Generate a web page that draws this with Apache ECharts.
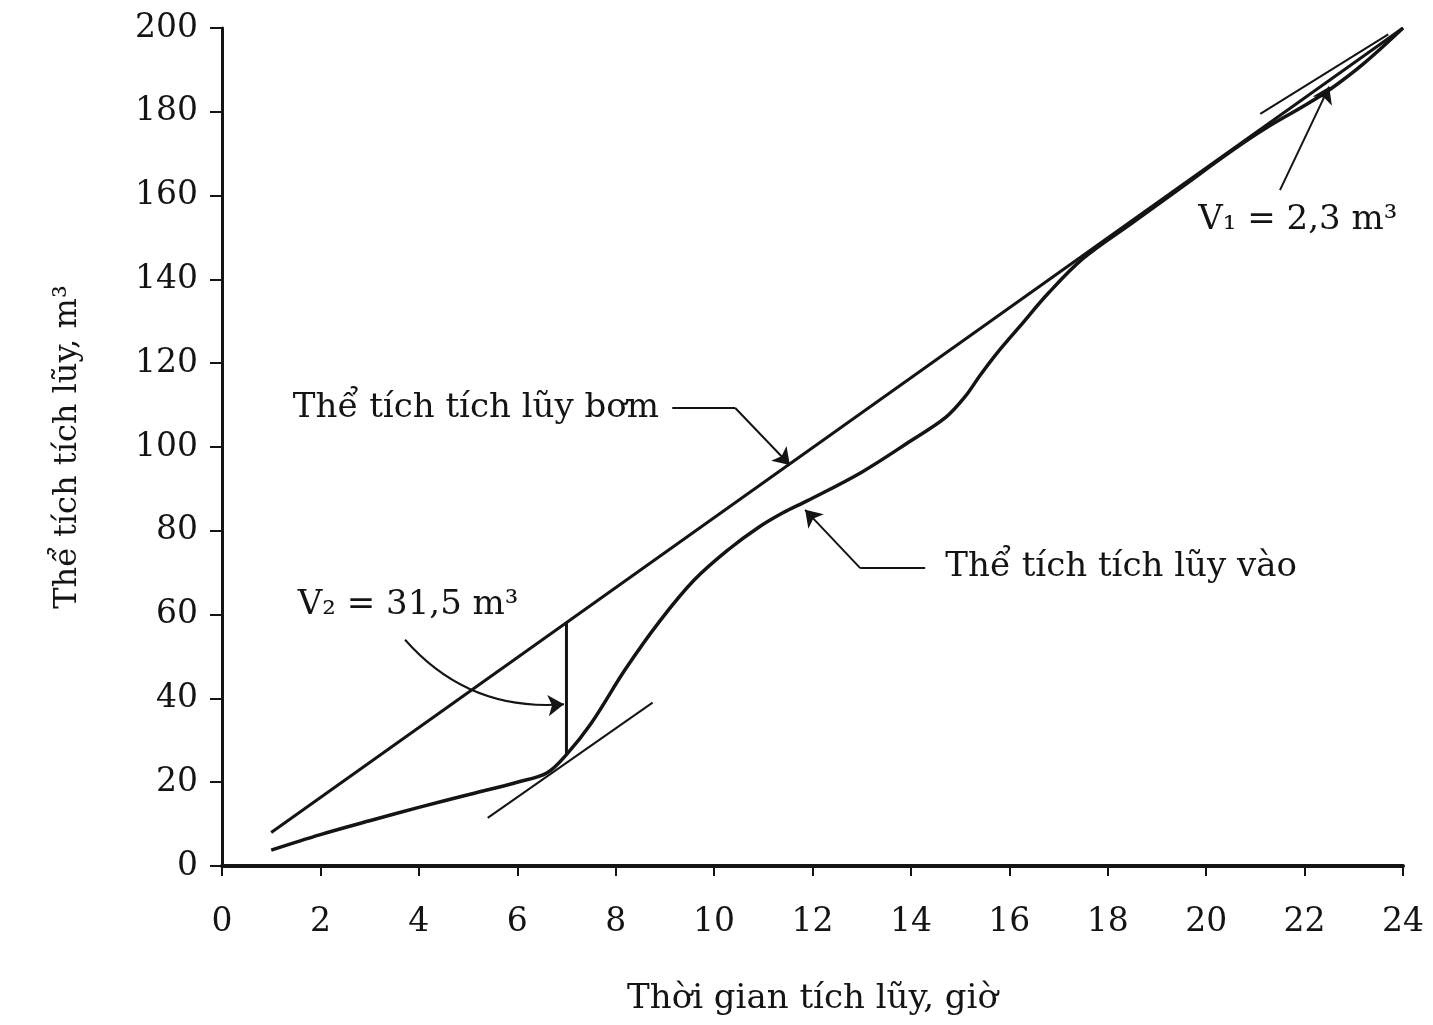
<!DOCTYPE html>
<html>
<head>
<meta charset="utf-8">
<script src="https://cdn.jsdelivr.net/npm/echarts@6/dist/echarts.min.js"></script>
<style>
  html, body { margin: 0; padding: 0; background: #ffffff; }
  #chart { width: 1433px; height: 1025px; }
</style>
</head>
<body>
<div id="chart"></div>
<script>
// Cumulative pumped volume (straight line) and cumulative inflow volume, m³ vs hours
const hoursPump = [1, 24];
const pumpVolume = [8, 200];

const hoursInflow = [1, 2, 3, 4, 5, 6, 6.6, 7, 7.5, 8.2, 8.9, 9.6, 10.3, 10.9, 11.4, 11.9, 13, 14, 14.7, 15.1, 15.4, 15.75, 16.2, 16.8, 17.5, 18.5, 19.5, 20.5, 21.2, 22, 22.5, 23.2, 24];
const inflowVolume = [3.8, 7.5, 10.8, 14, 17, 20, 22.2, 26.6, 34, 47, 58.5, 68.3, 75.6, 80.8, 84.3, 87.2, 94, 101.5, 107, 112, 117, 122.4, 128.6, 136.8, 145, 153.5, 162, 170.5, 176, 181.5, 185.2, 191.5, 200];

// Axis ranges
const xRange = { min: 0, max: 24, step: 2 };
const yRange = { min: 0, max: 200, step: 20 };

// Construction lines: tangents to the inflow curve and the V2 gap at hour 7
const tangentLow = [[5.4, 11.5], [8.75, 39]];
const tangentHigh = [[21.1, 179.5], [23.7, 198.5]];
const gapV2 = [[7, 26.6], [7, 58.1]];

// Leader arrows for the annotations (last segment carries the head)
const arrowPump = [[9.15, 109.3], [10.43, 109.3], [11.54, 95.7]];
const arrowInflow = [[14.29, 71.1], [12.97, 71.1], [11.85, 85]];
const arrowV1 = [[21.5, 161.3], [22.5, 186]];
const arrowV2 = [[3.72, 54], [6.95, 38.6]];

// Annotation texts and their anchor points (left edge, vertical middle)
const notes = [
  { text: 'Thể tích tích lũy bơm', at: [1.44, 109.3] },
  { text: 'Thể tích tích lũy vào', at: [14.7, 71.4] },
  { text: 'V₂ = 31,5 m³', at: [1.54, 62.3] },
  { text: 'V₁ = 2,3 m³', at: [19.84, 154.2] }
];

const xTitle = 'Thời gian tích lũy, giờ';
const yTitle = 'Thể tích tích lũy, m³';

const INK = '#141414';
const FONT = "'DejaVu Serif', 'Liberation Serif', serif";

const zip = (xs, ys) => xs.map((x, i) => [x, ys[i]]);
const leaders = [arrowPump, arrowInflow, arrowV1];
// Bent leaders: everything up to the last vertex is drawn plain, the last segment gets the head
const shafts = leaders.filter(p => p.length > 2).map(p => ({ coords: p.slice(0, -1) }));
const heads = leaders.map(p => ({ coords: p.slice(-2) }));

const chart = echarts.init(document.getElementById('chart'), null, { renderer: 'canvas' });

chart.setOption({
  backgroundColor: '#ffffff',
  animation: false,
  grid: { left: 222, right: 30, top: 28, bottom: 159 },
  xAxis: [
    {
      type: 'value', min: xRange.min, max: xRange.max, interval: xRange.step,
      axisLine: { show: true, lineStyle: { color: INK, width: 2 } },
      axisTick: { show: true, length: 10, lineStyle: { color: INK, width: 2 } },
      axisLabel: { margin: 40, fontSize: 33, fontFamily: FONT, color: INK },
      splitLine: { show: false },
      name: xTitle, nameLocation: 'middle', nameGap: 116,
      nameTextStyle: { fontSize: 34, fontFamily: FONT, color: INK }
    },
    {
      type: 'value', position: 'top', min: xRange.min, max: xRange.max,
      axisLine: { show: true, lineStyle: { color: INK, width: 4 } },
      axisTick: { show: false }, axisLabel: { show: false }, splitLine: { show: false }
    }
  ],
  yAxis: [
    {
      type: 'value', min: yRange.min, max: yRange.max, interval: yRange.step,
      axisLine: { show: true, lineStyle: { color: INK, width: 3 } },
      axisTick: { show: true, length: 12, lineStyle: { color: INK, width: 2 } },
      axisLabel: { margin: 24, fontSize: 33, fontFamily: FONT, color: INK },
      splitLine: { show: false },
      name: yTitle, nameLocation: 'middle', nameGap: 138,
      nameTextStyle: { fontSize: 32, fontFamily: FONT, color: INK }
    },
    {
      type: 'value', position: 'right', min: yRange.min, max: yRange.max,
      axisLine: { show: true, lineStyle: { color: INK, width: 2 } },
      axisTick: { show: false }, axisLabel: { show: false }, splitLine: { show: false }
    }
  ],
  series: [
    {
      name: 'Thể tích tích lũy bơm', type: 'line',
      data: zip(hoursPump, pumpVolume),
      symbol: 'none', lineStyle: { color: INK, width: 3 }, z: 3
    },
    {
      name: 'Thể tích tích lũy vào', type: 'line',
      data: zip(hoursInflow, inflowVolume),
      smooth: 0.35, symbol: 'none',
      lineStyle: { color: INK, width: 3.5 }, z: 3
    },
    {
      type: 'lines', coordinateSystem: 'cartesian2d', polyline: true,
      symbol: ['none', 'none'],
      lineStyle: { color: INK, width: 2, opacity: 1 },
      data: [
        { coords: tangentLow },
        { coords: tangentHigh },
        { coords: gapV2, lineStyle: { width: 3 } }
      ].concat(shafts), z: 2
    },
    {
      type: 'lines', coordinateSystem: 'cartesian2d',
      symbol: ['none', 'arrow'], symbolSize: [12, 16],
      lineStyle: { color: INK, width: 2, opacity: 1 },
      data: heads, z: 4
    },
    {
      type: 'lines', coordinateSystem: 'cartesian2d',
      symbol: ['none', 'arrow'], symbolSize: [12, 16],
      lineStyle: { color: INK, width: 2, opacity: 1, curveness: -0.25 },
      data: [{ coords: arrowV2 }], z: 4
    },
    {
      type: 'scatter', symbolSize: 0, silent: true,
      itemStyle: { opacity: 1 },
      data: notes.map(n => ({
        value: n.at,
        label: {
          show: true, position: 'right', distance: 0,
          formatter: n.text, fontSize: 34, fontFamily: FONT, color: INK,
          align: 'left', verticalAlign: 'middle'
        }
      })), z: 5
    }
  ]
});
</script>
</body>
</html>
